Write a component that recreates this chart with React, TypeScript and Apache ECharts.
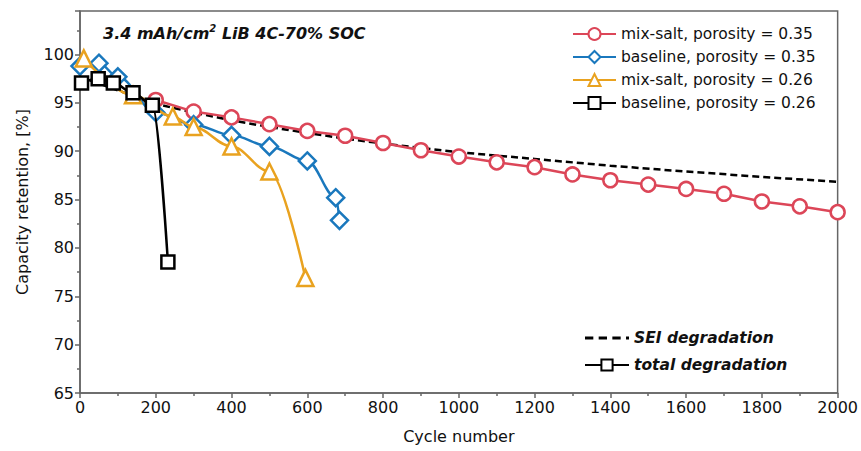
import React, { useEffect, useRef } from "react";
import * as echarts from "echarts";

const mix35Cycles = [200, 300, 400, 500, 600, 700, 800, 900, 1000, 1100, 1200, 1300, 1400, 1500, 1600, 1700, 1800, 1900, 2000];
const mix35Values = [95.3, 94.1, 93.5, 92.8, 92.1, 91.6, 90.85, 90.1, 89.45, 88.85, 88.35, 87.6, 87.0, 86.55, 86.1, 85.6, 84.8, 84.3, 83.7];

const base35Cycles = [0, 50, 100, 200, 300, 400, 500, 600, 675, 685];
const base35Values = [98.8, 99.1, 97.7, 94.0, 92.75, 91.65, 90.5, 89.0, 85.2, 82.85];

const mix26Cycles = [10, 140, 245, 300, 400, 500, 595];
const mix26Values = [99.6, 95.8, 93.6, 92.5, 90.5, 87.9, 76.9];

const base26Cycles = [4, 48, 88, 140, 191, 232];
const base26Values = [97.05, 97.5, 97.05, 96.05, 94.75, 78.55];

const seiCycles = [0, 100, 200, 300, 400, 500, 600, 700, 800, 900, 1000, 1200, 1400, 1600, 1800, 2000];
const seiValues = [97.7, 96.3, 94.9, 94.0, 93.2, 92.5, 91.9, 91.3, 90.8, 90.35, 89.9, 89.2, 88.5, 87.9, 87.35, 86.83];

const seriesNames = [
  "mix-salt, porosity = 0.35",
  "baseline, porosity = 0.35",
  "mix-salt, porosity = 0.26",
  "baseline, porosity = 0.26",
];
const legend2Names = ["SEI degradation", "total degradation"];

const RED = "#DC4658";
const BLUE = "#1A78BD";
const ORANGE = "#E9A21F";
const BLACK = "#000000";
const AXIS = "#666666";
const FONT = "'DejaVu Sans', 'Liberation Sans', Arial, sans-serif";

const zip = (xs: number[], ys: number[]) => xs.map((x, i) => [x, ys[i]]);

const DASH_ICON = "path://M0,0h7v2.5h-7z M11.5,0h7v2.5h-7z M23,0h7v2.5h-7z M34.5,0h2.5v2.5h-2.5z";

function markerSeries(name: string, xs: number[], ys: number[], color: string, symbol: string, size: number, smooth: boolean, z: number) {
  return {
    name,
    type: "line",
    data: zip(xs, ys),
    symbol,
    symbolSize: size,
    showAllSymbol: true,
    smooth: smooth ? 0.35 : false,
    smoothMonotone: "x",
    z,
    lineStyle: { color, width: 2.5 },
    itemStyle: { color: "#ffffff", borderColor: color, borderWidth: 2.5 },
    emphasis: { disabled: true },
  };
}

export default function App() {
  const ref = useRef<HTMLDivElement>(null);
  useEffect(() => {
    if (!ref.current) return;
    const chart = echarts.init(ref.current, undefined, { renderer: "svg" });
    chart.setOption({
      animation: false,
      backgroundColor: "#ffffff",
      grid: { left: 80, right: 21, top: 11, bottom: 58, show: true, borderColor: AXIS, borderWidth: 1.5 },
      xAxis: {
        type: "value",
        min: 0,
        max: 2000,
        interval: 200,
        name: "Cycle number",
        nameLocation: "middle",
        nameGap: 35,
        nameTextStyle: { fontFamily: FONT, fontSize: 16, color: "#111" },
        axisLine: { show: true, lineStyle: { color: AXIS, width: 1.5 } },
        axisTick: { show: true, inside: false, length: 5, lineStyle: { color: AXIS, width: 1.5 } },
        minorTick: { show: true, splitNumber: 2, length: 3, lineStyle: { color: AXIS, width: 1.5 } },
        splitLine: { show: false },
        axisLabel: { fontFamily: FONT, fontSize: 16, color: "#111", margin: 6, formatter: (v: number) => String(v) },
      },
      yAxis: {
        type: "value",
        min: 65,
        max: 104.5,
        interval: 5,
        name: "Capacity retention, [%]",
        nameLocation: "middle",
        nameGap: 50,
        nameTextStyle: { fontFamily: FONT, fontSize: 16, color: "#111" },
        axisLine: { show: true, lineStyle: { color: AXIS, width: 1.5 } },
        axisTick: { show: true, inside: false, length: 5, lineStyle: { color: AXIS, width: 1.5 } },
        minorTick: { show: true, splitNumber: 2, length: 3, lineStyle: { color: AXIS, width: 1.5 } },
        splitLine: { show: false },
        axisLabel: {
          fontFamily: FONT,
          fontSize: 16,
          color: "#111",
          margin: 6,
          formatter: (v: number) => (Math.abs(v % 5) < 1e-6 ? String(v) : ""),
        },
      },
      legend: [
        {
          orient: "vertical",
          left: 572,
          top: 26,
          padding: 0,
          itemWidth: 43,
          itemHeight: 15,
          itemGap: 7,
          data: seriesNames,
          textStyle: { fontFamily: FONT, fontSize: 15.5, color: "#111", lineHeight: 14 },
          selectedMode: false,
        },
        {
          orient: "vertical",
          left: 584,
          top: 330,
          padding: 0,
          itemWidth: 44,
          itemHeight: 14,
          itemGap: 11,
          data: [{ name: legend2Names[0], icon: DASH_ICON }, legend2Names[1]],
          textStyle: { fontFamily: FONT, fontSize: 15.5, fontWeight: "bold", fontStyle: "italic", color: "#111", lineHeight: 14 },
          selectedMode: false,
        },
      ],
      graphic: [
        {
          type: "text",
          left: 103,
          top: 23,
          style: {
            text: "{a|3.4 mAh/cm}{s|2}{a| LiB 4C-70% SOC}",
            rich: {
              a: { fontFamily: FONT, fontSize: 16, fontWeight: "bold", fontStyle: "italic", fill: "#111", verticalAlign: "bottom", lineHeight: 18 },
              s: { fontFamily: FONT, fontSize: 10, fontWeight: "bold", fontStyle: "italic", fill: "#111", verticalAlign: "top", lineHeight: 18, padding: [0, 0, 8, 0] },
            },
          },
        },
      ],
      series: [
        {
          name: "SEI degradation",
          type: "line",
          data: zip(seiCycles, seiValues),
          symbol: "none",
          smooth: false,
          z: 1,
          lineStyle: { color: BLACK, width: 2.5, type: [7, 4] },
          itemStyle: { color: BLACK },
          emphasis: { disabled: true },
        },
        markerSeries(seriesNames[0], mix35Cycles, mix35Values, RED, "circle", 14, false, 2),
        markerSeries(seriesNames[1], base35Cycles, base35Values, BLUE, "diamond", 17, true, 3),
        markerSeries(seriesNames[2], mix26Cycles, mix26Values, ORANGE, "triangle", 16, true, 4),
        markerSeries(seriesNames[3], base26Cycles, base26Values, BLACK, "rect", 13, true, 5),
        {
          name: "total degradation",
          type: "line",
          data: [],
          symbol: "rect",
          symbolSize: 13,
          lineStyle: { color: BLACK, width: 2.5 },
          itemStyle: { color: "#ffffff", borderColor: BLACK, borderWidth: 2.5 },
        },
      ],
    });
    return () => chart.dispose();
  }, []);
  return <div ref={ref} style={{ width: 861, height: 451, position: "absolute", left: 0, top: 0 }} />;
}
